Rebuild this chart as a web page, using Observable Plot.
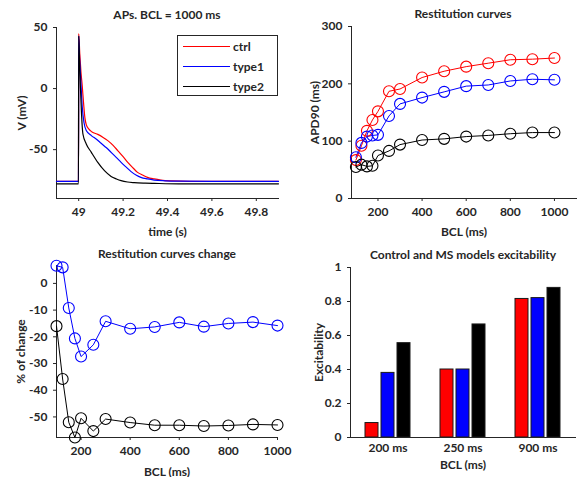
<!DOCTYPE html>
<html>
<head>
<meta charset="utf-8">
<script src="https://cdn.jsdelivr.net/npm/d3@7"></script>
<script src="https://cdn.jsdelivr.net/npm/@observablehq/plot@0.6"></script>
<style>
  body { margin: 0; background: #fff; }
  #fig { position: relative; width: 577px; height: 477px; overflow: hidden; background: #fff;
         font-family: Lato, "Open Sans", sans-serif; color: #262626; }
  .panel { position: absolute; }
  .title { position: absolute; font-weight: bold; font-size: 12px; white-space: nowrap;
           transform: translate(-50%, -50%); }
  .legend { position: absolute; box-sizing: border-box; border: 1px solid #262626; background: #fff;
            font-size: 12px; font-weight: bold; }
  .legend .row { display: flex; align-items: center; height: 20px; }
  .legend .swatch { width: 47px; height: 0; border-top: 1.3px solid; margin-left: 5px; margin-right: 3px; }
</style>
</head>
<body>
<div id="fig"></div>
<script>
// ---- Model names and colours ----
const models = ["ctrl", "type1", "type2"];
const modelColors = ["red", "blue", "black"];

// ---- Action potentials, BCL = 1000 ms (time in s, voltage in mV) ----
const apCtrlT  = [48.9, 48.999, 49.0, 49.005, 49.01, 49.016, 49.022, 49.028, 49.034, 49.045, 49.06, 49.086, 49.11, 49.131, 49.155, 49.176, 49.2, 49.221, 49.245, 49.265, 49.29, 49.31, 49.34, 49.37, 49.42, 49.5, 49.7, 49.9];
const apCtrlV  = [-76, -76, 45, 28, 14, 2, -12, -24, -29.5, -33, -35.5, -37.5, -40, -42.6, -46.5, -50.8, -55.8, -60.4, -65, -68.6, -71, -72.7, -74, -74.9, -75.6, -76, -76, -76];
const apType1T = [48.9, 48.999, 49.0, 49.004, 49.01, 49.016, 49.024, 49.034, 49.057, 49.08, 49.101, 49.125, 49.146, 49.17, 49.191, 49.215, 49.236, 49.26, 49.28, 49.31, 49.34, 49.39, 49.45, 49.6, 49.9];
const apType1V = [-76, -76, 43, 25, 5, -15, -28, -34.4, -38.5, -41.5, -44.8, -48.5, -52.2, -56.5, -60.4, -64.5, -68, -71, -72.7, -74, -74.9, -75.5, -75.8, -76, -76];
const apType2T = [48.9, 48.999, 49.0, 49.004, 49.008, 49.012, 49.019, 49.034, 49.057, 49.086, 49.116, 49.146, 49.17, 49.191, 49.22, 49.25, 49.3, 49.34, 49.45, 49.9];
const apType2V = [-78, -78, 43, 20, 0, -18, -37.2, -45.3, -52.2, -60.4, -67.2, -71.9, -74, -75.4, -76.5, -77, -77.4, -77.6, -78, -78];
const apTimeTicks = [49, 49.2, 49.4, 49.6, 49.8];
const apVoltTicks = [-50, 0, 50];

// ---- Restitution curves: APD90 (ms) against BCL (ms) ----
const bcl = [100, 125, 150, 175, 200, 250, 300, 400, 500, 600, 700, 800, 900, 1000];
const apdCtrl  = [67, 92, 118, 137, 152, 187, 191, 211, 222, 230, 236, 242, 243, 245];
const apdType1 = [72, 97, 108, 110, 111, 144, 165, 176, 186, 196, 198, 205, 208, 207];
const apdType2 = [55, 59, 56, 57, 75, 83, 94, 102, 104, 108, 110, 113, 115, 115];
const bclTicks = [200, 400, 600, 800, 1000];
const apdTicks = [0, 100, 200, 300];

// ---- Restitution change relative to ctrl (%) ----
const chgType1 = [6.6, 6.0, -9.2, -20.6, -27.4, -23, -14.2, -17, -16.3, -14.6, -16.2, -15, -14.5, -15.8];
const chgType2 = [-16, -35.8, -52, -57.7, -50.5, -55.3, -50.8, -52.1, -53.1, -53.1, -53.4, -53.2, -52.8, -53];
const chgTicks = [-50, -40, -30, -20, -10, 0];

// ---- Excitability at three BCLs ----
const bclCats   = ["200 ms", "250 ms", "900 ms"];
const excCtrl   = [0.085, 0.40, 0.815];
const excType1  = [0.38, 0.40, 0.82];
const excType2  = [0.555, 0.665, 0.88];
const excTicks  = [0, 0.2, 0.4, 0.6, 0.8, 1];

// ---- Tables built from the arrays ----
const toRows = (xs, ys, model, xk, yk) => xs.map((x, i) => ({[xk]: x, [yk]: ys[i], model}));
const apRows = [
  ...toRows(apCtrlT, apCtrlV, "ctrl", "t", "v"),
  ...toRows(apType1T, apType1V, "type1", "t", "v"),
  ...toRows(apType2T, apType2V, "type2", "t", "v")
];
const apdRows = [
  ...toRows(bcl, apdCtrl, "ctrl", "bcl", "apd"),
  ...toRows(bcl, apdType1, "type1", "bcl", "apd"),
  ...toRows(bcl, apdType2, "type2", "bcl", "apd")
];
const chgRows = [
  ...toRows(bcl, chgType1, "type1", "bcl", "chg"),
  ...toRows(bcl, chgType2, "type2", "bcl", "chg")
];
const excRows = [
  ...toRows(bclCats, excCtrl, "ctrl", "cat", "exc"),
  ...toRows(bclCats, excType1, "type1", "cat", "exc"),
  ...toRows(bclCats, excType2, "type2", "cat", "exc")
];

const fig = document.getElementById("fig");
const baseStyle = {
  fontFamily: "Lato, 'Open Sans', sans-serif", fontSize: "12px", fontWeight: "bold",
  color: "#262626", background: "transparent", overflow: "visible"
};
const color = {domain: models, range: modelColors};
const fmt = d => String(d);

function place(node, left, top, width) {
  const div = document.createElement("div");
  div.className = "panel";
  div.style.left = left + "px";
  div.style.top = top + "px";
  div.style.width = width + "px";
  div.appendChild(node);
  fig.appendChild(div);
}
function title(text, cx, cy) {
  const t = document.createElement("div");
  t.className = "title";
  t.textContent = text;
  t.style.left = cx + "px";
  t.style.top = cy + "px";
  fig.appendChild(t);
}

// Panel A: action potentials
place(Plot.plot({
  width: 288, height: 240,
  marginLeft: 56, marginRight: 10, marginTop: 27, marginBottom: 42,
  style: baseStyle,
  color,
  x: {domain: [48.9, 49.9], ticks: apTimeTicks, tickFormat: fmt, tickSize: 3,
      label: "time (s)", labelAnchor: "center", labelArrow: "none", labelOffset: 37},
  y: {domain: [-90, 50], ticks: apVoltTicks, tickFormat: fmt, tickSize: 3,
      label: "V (mV)", labelAnchor: "center", labelArrow: "none", labelOffset: 39},
  marks: [
    Plot.frame({anchor: "left"}),
    Plot.frame({anchor: "bottom"}),
    Plot.line(apRows, {x: "t", y: "v", z: "model", stroke: "model", strokeWidth: 1.2, curve: "monotone-x"})
  ]
}), 0, 0, 288);

// Panel B: restitution curves
place(Plot.plot({
  width: 289, height: 240,
  marginLeft: 63, marginRight: 1, marginTop: 26, marginBottom: 42,
  style: baseStyle,
  color,
  x: {domain: [80, 1100], ticks: bclTicks, tickFormat: fmt, tickSize: 3,
      label: "BCL (ms)", labelAnchor: "center", labelArrow: "none", labelOffset: 37},
  y: {domain: [0, 300], ticks: apdTicks, tickFormat: fmt, tickSize: 3,
      label: "APD90 (ms)", labelAnchor: "center", labelArrow: "none", labelOffset: 41},
  marks: [
    Plot.frame({anchor: "left"}),
    Plot.frame({anchor: "bottom"}),
    Plot.line(apdRows, {x: "bcl", y: "apd", z: "model", stroke: "model", strokeWidth: 1}),
    Plot.dot(apdRows, {x: "bcl", y: "apd", stroke: "model", r: 5.5, strokeWidth: 1.1})
  ]
}), 288, 0, 289);

// Panel C: change of restitution relative to ctrl
place(Plot.plot({
  width: 288, height: 237,
  marginLeft: 56, marginRight: 11, marginTop: 25, marginBottom: 40,
  style: baseStyle,
  color,
  x: {domain: [100, 1000], ticks: bclTicks, tickFormat: fmt, tickSize: 3,
      label: "BCL (ms)", labelAnchor: "center", labelArrow: "none", labelOffset: 38},
  y: {domain: [-57.7, 6.7], ticks: chgTicks, tickFormat: fmt, tickSize: 3,
      label: "% of change", labelAnchor: "center", labelArrow: "none", labelOffset: 40},
  marks: [
    Plot.frame({anchor: "left"}),
    Plot.frame({anchor: "bottom"}),
    Plot.line(chgRows, {x: "bcl", y: "chg", z: "model", stroke: "model", strokeWidth: 1}),
    Plot.dot(chgRows, {x: "bcl", y: "chg", stroke: "model", r: 5.5, strokeWidth: 1.1})
  ]
}), 0, 240, 288);

// Panel D: excitability bars grouped by BCL
place(Plot.plot({
  width: 289, height: 237,
  marginLeft: 61, marginRight: 2, marginTop: 27, marginBottom: 40,
  style: baseStyle,
  color,
  fx: {domain: bclCats, padding: 0, axis: "bottom", tickSize: 0, tickPadding: 6,
       label: "BCL (ms)", labelAnchor: "center", labelArrow: "none", labelOffset: 31},
  x: {domain: models, paddingInner: 0.18, paddingOuter: 0.8, axis: null},
  y: {domain: [0, 1], ticks: excTicks, tickFormat: fmt, tickSize: 3,
      label: "Excitability", labelAnchor: "center", labelArrow: "none", labelOffset: 36},
  marks: [
    Plot.barY(excRows, {fx: "cat", x: "model", y: "exc", fill: "model", stroke: "#1a1a1a", strokeWidth: 1}),
    Plot.frame({anchor: "left", facetAnchor: "left"}),
    Plot.frame({anchor: "bottom"})
  ]
}), 288, 240, 289);

// Titles
title("APs. BCL = 1000 ms", 167, 14);
title("Restitution curves", 463, 13);
title("Restitution curves change", 167, 253);
title("Control and MS models excitability", 463, 254);

// Legend for the action potentials
const legend = document.createElement("div");
legend.className = "legend";
Object.assign(legend.style, {left: "177px", top: "35px", width: "101px", height: "61px"});
models.forEach((m, i) => {
  const row = document.createElement("div");
  row.className = "row";
  const sw = document.createElement("div");
  sw.className = "swatch";
  sw.style.borderTopColor = modelColors[i];
  const lab = document.createElement("span");
  lab.textContent = m;
  row.append(sw, lab);
  legend.appendChild(row);
});
fig.appendChild(legend);
</script>
</body>
</html>
